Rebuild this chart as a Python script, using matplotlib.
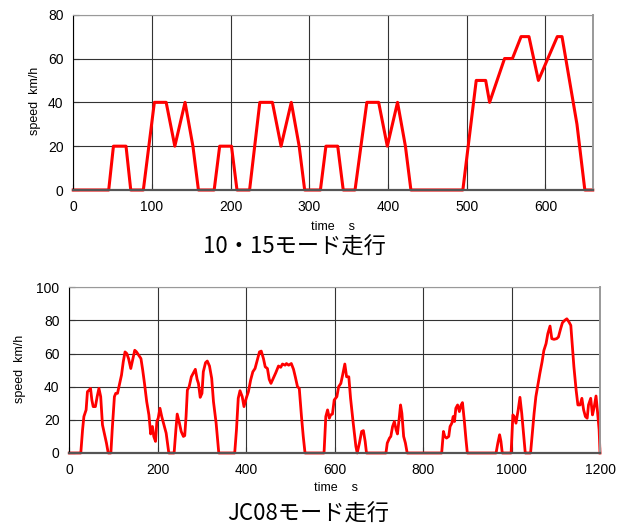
import matplotlib
matplotlib.use("Agg")
from matplotlib import pyplot as plt

# 10-15 mode
t_1015 = [0, 45, 51, 67, 73, 89, 103, 118, 129, 142, 152, 159, 179, 186, 201, 208,
          224, 237, 253, 264, 277, 287, 294, 314, 321, 336, 343, 358, 373, 388, 399,
          412, 422, 429, 495, 512, 524, 529, 548, 558, 569, 579, 591, 615, 621, 640,
          650, 660]
v_1015 = [0, 0, 20, 20, 0, 0, 40, 40, 20, 40, 20, 0, 0, 20, 20, 0,
          0, 40, 40, 20, 40, 20, 0, 0, 20, 20, 0, 0, 40, 40, 20,
          40, 20, 0, 0, 50, 50, 40, 60, 60, 70, 70, 50, 70, 70, 30,
          0, 0]

# JC08 mode
t_jc08 = [0, 26, 30, 33, 38, 41, 45, 48, 51, 54, 59, 63, 67, 71, 75, 79, 84, 88, 94,
          97, 102, 105, 109, 113, 118, 122, 126, 130, 134, 139, 143, 148, 152, 157,
          162, 166, 170, 175, 180, 184, 188, 191, 195, 198, 201, 205, 209, 214, 219,
          222, 225, 237, 241, 244, 249, 253, 258, 261, 264, 267, 271, 276, 280, 285,
          289, 292, 296, 300, 303, 308, 312, 317, 322, 326, 332, 338, 374, 378, 382,
          386, 391, 395, 400, 405, 410, 415, 420, 425, 430, 434, 439, 443, 448, 452,
          456, 461, 467, 473, 478, 482, 488, 491, 496, 502, 507, 511, 516, 520, 525,
          529, 533, 576, 580, 584, 588, 591, 595, 599, 605, 609, 614, 618, 623, 627,
          632, 636, 642, 648, 651, 656, 661, 665, 669, 672, 716, 719, 724, 727, 731,
          735, 739, 742, 746, 749, 752, 756, 760, 764, 842, 846, 849, 853, 858, 861,
          865, 868, 871, 874, 878, 882, 886, 889, 893, 897, 900, 965, 969, 973, 976,
          979, 999, 1003, 1006, 1010, 1015, 1019, 1023, 1027, 1031, 1043, 1047, 1051,
          1055, 1060, 1064, 1069, 1073, 1078, 1082, 1087, 1091, 1096, 1102, 1106, 1111,
          1115, 1120, 1125, 1130, 1134, 1137, 1141, 1146, 1150, 1155, 1159, 1163, 1167,
          1171, 1174, 1179, 1183, 1187, 1191, 1194, 1198, 1200]
v_jc08 = [0, 0, 14, 22, 26, 37, 38, 39, 32, 28, 28, 34, 39, 34, 17, 12, 6, 0, 0,
          14, 34, 36, 36, 41, 47, 55, 61, 60, 57, 51, 56, 62, 61, 59,
          57, 50, 42, 31, 23, 11.5, 16, 10, 7, 19, 21, 27, 22, 17, 12,
          6, 0, 0, 14, 23.5, 18, 13, 10, 10.5, 22, 38, 40, 46, 48, 50.5,
          44.5, 42, 33.6, 36, 49, 54.5, 55.5, 52.5, 45, 31, 18, 0, 0, 14, 33,
          37.6, 34, 28, 33, 37, 44, 49, 51, 56, 61, 61.5, 57, 52, 51, 44.5,
          42, 45, 48.5, 52.5, 51.7, 53.7, 53, 54, 53, 54, 50.5, 46, 40, 39, 22,
          10, 0, 0, 22, 26, 21, 23, 23.5, 32, 34, 40, 42, 47, 53.7, 46,
          46, 33, 18, 4, 0, 6, 13, 13.5, 7, 0, 0, 6, 9, 10, 16,
          19, 14, 11.5, 21, 29, 24, 10, 6, 0, 0, 13, 10, 9, 10, 16,
          18, 22, 19, 27, 29, 25, 29, 30.4, 20, 8, 0, 0, 6, 11, 7,
          0, 0, 23, 22, 18, 26, 33.6, 24, 12, 0, 0, 12, 24,
          34, 42, 48, 55, 61.8, 66, 72, 76.6, 69, 68.6, 69, 70, 75,
          78.6, 80, 81, 79, 77, 66, 52, 38, 29, 29, 33, 26, 22,
          21, 29, 33, 23, 28, 34.4, 26, 14, 0]

plt.rcParams['font.family'] = ['Liberation Sans', 'Noto Sans CJK JP', 'DejaVu Sans']
jp = ['Noto Sans CJK JP', 'DejaVu Sans']

W, H = 621, 524
fig = plt.figure(figsize=(W / 100, H / 100), dpi=100)


def setup(ax, xmax, xstep, ymax):
    ax.set_xlim(0, xmax)
    ax.set_ylim(0, ymax)
    ax.set_xticks(range(0, xmax + 1, xstep))
    ax.set_yticks(range(0, ymax + 1, 20))
    ax.grid(True, color='#333333', lw=0.8)
    ax.set_axisbelow(True)
    ax.tick_params(direction='in', length=4, labelsize=10, pad=7, color='#333333')
    ax.spines['left'].set_color('black')
    ax.spines['bottom'].set_color('#555555')
    ax.spines['bottom'].set_linewidth(1.6)
    ax.spines['top'].set_color('#999999')
    ax.spines['right'].set_color('#999999')
    ax.spines['right'].set_linewidth(1.4)


ax1 = fig.add_axes([73.3 / W, 1 - 190 / H, 519.4 / W, 175.3 / H])
ax1.plot(t_1015, v_1015, color='#ff0000', lw=2.2, clip_on=False)
setup(ax1, 660, 100, 80)

ax2 = fig.add_axes([69.3 / W, 1 - 453 / H, 530.7 / W, 165.7 / H])
ax2.plot(t_jc08, v_jc08, color='#ff0000', lw=2.0, clip_on=False)
setup(ax2, 1200, 200, 100)

fig.text(35 / W, 1 - 101 / H, 'speed  km/h', rotation=90, fontsize=9,
         ha='center', va='center')
fig.text(20 / W, 1 - 369 / H, 'speed  km/h', rotation=90, fontsize=9,
         ha='center', va='center')
fig.text(333 / W, 1 - 227 / H, 'time    s', fontsize=9, ha='center', va='center')
fig.text(336 / W, 1 - 488 / H, 'time    s', fontsize=9, ha='center', va='center')
fig.text(294 / W, 1 - 247 / H, '10・15モード走行', fontsize=16, family=jp,
         ha='center', va='center')
fig.text(308 / W, 1 - 514 / H, 'JC08モード走行', fontsize=16, family=jp,
         ha='center', va='center')

fig.savefig('out.png', dpi=100)
